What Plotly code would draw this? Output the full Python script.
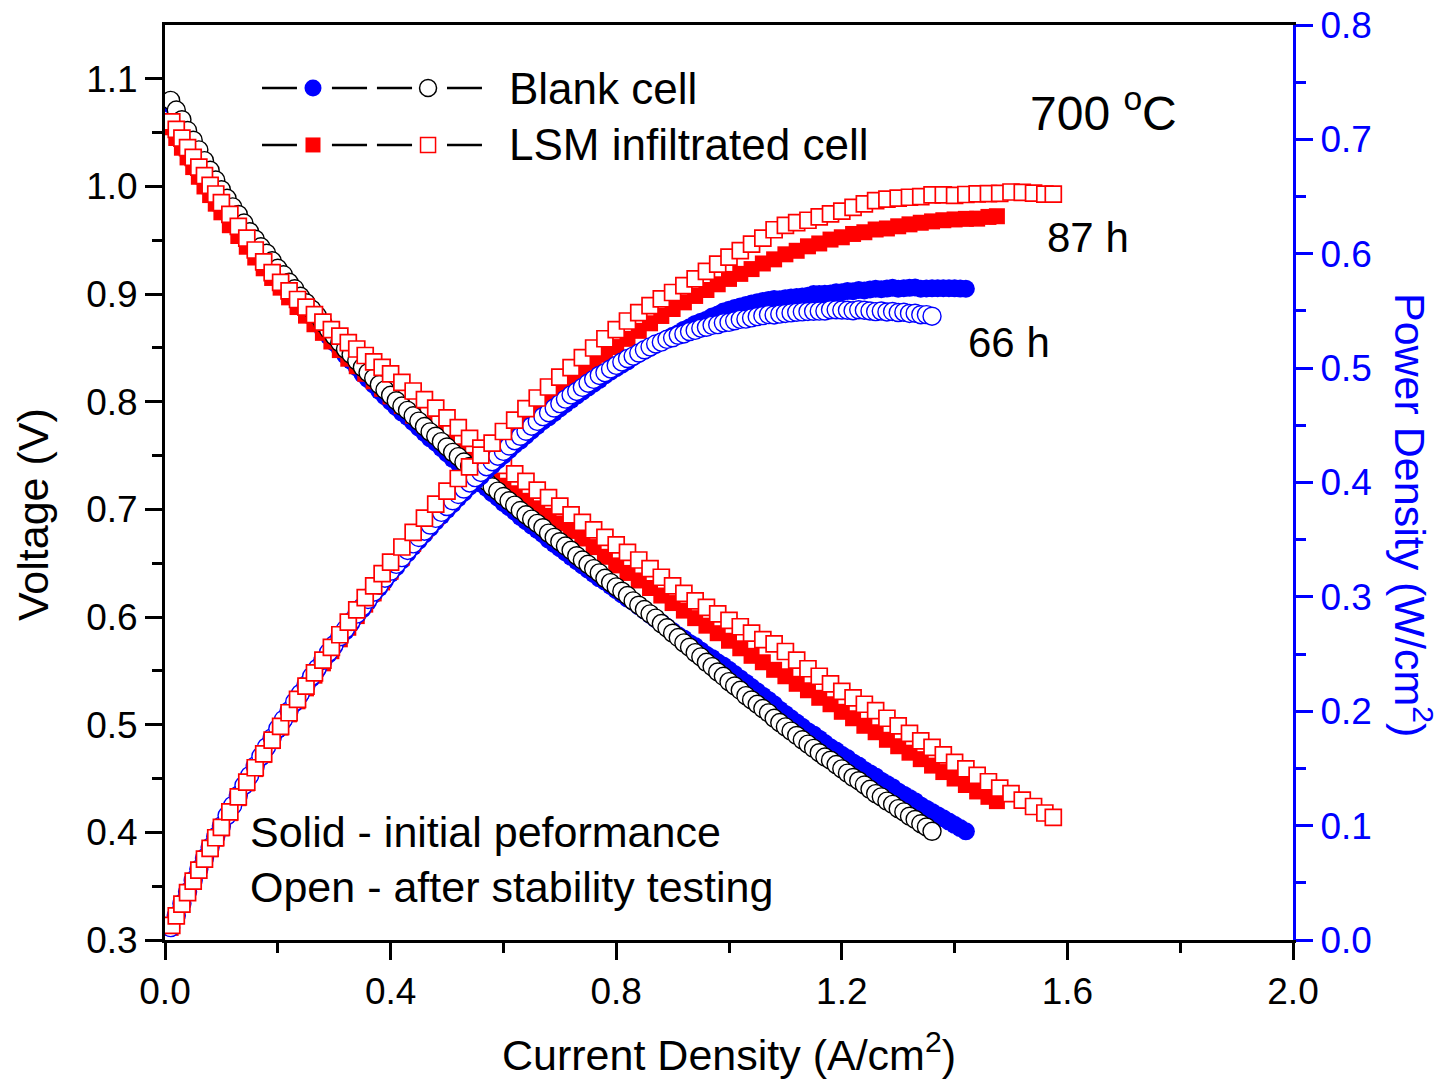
import plotly.graph_objects as go

FONT = "Liberation Sans, Arial, Helvetica, sans-serif"
BLUE = "#0000FF"
RED = "#FF0000"

# ---------------- data ----------------
blank_after_current = [
    0.01, 0.02, 0.03, 0.04, 0.05, 0.06, 0.07, 0.08, 0.09, 0.10,
    0.11, 0.12, 0.13, 0.14, 0.15, 0.16, 0.17, 0.18, 0.19, 0.20,
    0.21, 0.22, 0.23, 0.24, 0.25, 0.26, 0.27, 0.28, 0.29, 0.30,
    0.31, 0.32, 0.33, 0.34, 0.35, 0.36, 0.37, 0.38, 0.39, 0.40,
    0.41, 0.42, 0.43, 0.44, 0.45, 0.46, 0.47, 0.48, 0.49, 0.50,
    0.51, 0.52, 0.53, 0.54, 0.55, 0.56, 0.57, 0.58, 0.59, 0.60,
    0.61, 0.62, 0.63, 0.64, 0.65, 0.66, 0.67, 0.68, 0.69, 0.70,
    0.71, 0.72, 0.73, 0.74, 0.75, 0.76, 0.77, 0.78, 0.79, 0.80,
    0.81, 0.82, 0.83, 0.84, 0.85, 0.86, 0.87, 0.88, 0.89, 0.90,
    0.91, 0.92, 0.93, 0.94, 0.95, 0.96, 0.97, 0.98, 0.99, 1.00,
    1.01, 1.02, 1.03, 1.04, 1.05, 1.06, 1.07, 1.08, 1.09, 1.10,
    1.11, 1.12, 1.13, 1.14, 1.15, 1.16, 1.17, 1.18, 1.19, 1.20,
    1.21, 1.22, 1.23, 1.24, 1.25, 1.26, 1.27, 1.28, 1.29, 1.30,
    1.31, 1.32, 1.33, 1.34, 1.35, 1.36]
blank_after_voltage = [
    1.080, 1.071, 1.062, 1.052, 1.043, 1.034, 1.024, 1.015, 1.006, 0.997,
    0.989, 0.981, 0.974, 0.966, 0.958, 0.951, 0.944, 0.938, 0.931, 0.924,
    0.918, 0.911, 0.905, 0.898, 0.892, 0.886, 0.880, 0.873, 0.867, 0.861,
    0.855, 0.849, 0.844, 0.838, 0.832, 0.827, 0.822, 0.816, 0.811, 0.806,
    0.801, 0.796, 0.792, 0.787, 0.782, 0.777, 0.772, 0.768, 0.763, 0.758,
    0.753, 0.749, 0.744, 0.740, 0.735, 0.730, 0.726, 0.721, 0.717, 0.712,
    0.708, 0.704, 0.699, 0.695, 0.691, 0.687, 0.683, 0.678, 0.674, 0.670,
    0.666, 0.662, 0.657, 0.653, 0.649, 0.645, 0.641, 0.636, 0.632, 0.628,
    0.624, 0.620, 0.615, 0.611, 0.607, 0.603, 0.599, 0.594, 0.590, 0.585,
    0.581, 0.576, 0.572, 0.567, 0.563, 0.558, 0.554, 0.549, 0.545, 0.540,
    0.536, 0.532, 0.527, 0.523, 0.519, 0.515, 0.511, 0.506, 0.502, 0.498,
    0.494, 0.490, 0.486, 0.482, 0.478, 0.474, 0.470, 0.467, 0.463, 0.459,
    0.455, 0.451, 0.448, 0.444, 0.440, 0.436, 0.433, 0.429, 0.426, 0.422,
    0.419, 0.415, 0.412, 0.408, 0.405, 0.401]
blank_after_power = [
    0.0108, 0.0214, 0.0319, 0.0421, 0.0522, 0.0620, 0.0717, 0.0812, 0.0905, 0.0997,
    0.1088, 0.1177, 0.1266, 0.1352, 0.1437, 0.1522, 0.1605, 0.1688, 0.1769, 0.1848,
    0.1928, 0.2004, 0.2082, 0.2155, 0.2230, 0.2304, 0.2376, 0.2444, 0.2514, 0.2583,
    0.2651, 0.2717, 0.2785, 0.2849, 0.2912, 0.2977, 0.3041, 0.3101, 0.3163, 0.3224,
    0.3284, 0.3343, 0.3406, 0.3463, 0.3519, 0.3574, 0.3628, 0.3686, 0.3739, 0.3790,
    0.3840, 0.3895, 0.3943, 0.3996, 0.4043, 0.4088, 0.4138, 0.4182, 0.4230, 0.4272,
    0.4319, 0.4365, 0.4404, 0.4448, 0.4492, 0.4534, 0.4576, 0.4610, 0.4651, 0.4690,
    0.4729, 0.4766, 0.4796, 0.4832, 0.4868, 0.4902, 0.4936, 0.4961, 0.4993, 0.5024,
    0.5054, 0.5084, 0.5105, 0.5132, 0.5160, 0.5186, 0.5211, 0.5227, 0.5251, 0.5265,
    0.5287, 0.5299, 0.5320, 0.5330, 0.5349, 0.5357, 0.5374, 0.5380, 0.5396, 0.5400,
    0.5414, 0.5426, 0.5428, 0.5439, 0.5450, 0.5459, 0.5468, 0.5465, 0.5472, 0.5478,
    0.5483, 0.5488, 0.5492, 0.5495, 0.5497, 0.5498, 0.5499, 0.5511, 0.5510, 0.5508,
    0.5506, 0.5502, 0.5510, 0.5506, 0.5500, 0.5494, 0.5499, 0.5491, 0.5495, 0.5486,
    0.5489, 0.5478, 0.5480, 0.5467, 0.5468, 0.5454]

blank_init_current = [
    0.01, 0.02, 0.03, 0.04, 0.05, 0.06, 0.07, 0.08, 0.09, 0.10,
    0.11, 0.12, 0.13, 0.14, 0.15, 0.16, 0.17, 0.18, 0.19, 0.20,
    0.21, 0.22, 0.23, 0.24, 0.25, 0.26, 0.27, 0.28, 0.29, 0.30,
    0.31, 0.32, 0.33, 0.34, 0.35, 0.36, 0.37, 0.38, 0.39, 0.40,
    0.41, 0.42, 0.43, 0.44, 0.45, 0.46, 0.47, 0.48, 0.49, 0.50,
    0.51, 0.52, 0.53, 0.54, 0.55, 0.56, 0.57, 0.58, 0.59, 0.60,
    0.61, 0.62, 0.63, 0.64, 0.65, 0.66, 0.67, 0.68, 0.69, 0.70,
    0.71, 0.72, 0.73, 0.74, 0.75, 0.76, 0.77, 0.78, 0.79, 0.80,
    0.81, 0.82, 0.83, 0.84, 0.85, 0.86, 0.87, 0.88, 0.89, 0.90,
    0.91, 0.92, 0.93, 0.94, 0.95, 0.96, 0.97, 0.98, 0.99, 1.00,
    1.01, 1.02, 1.03, 1.04, 1.05, 1.06, 1.07, 1.08, 1.09, 1.10,
    1.11, 1.12, 1.13, 1.14, 1.15, 1.16, 1.17, 1.18, 1.19, 1.20,
    1.21, 1.22, 1.23, 1.24, 1.25, 1.26, 1.27, 1.28, 1.29, 1.30,
    1.31, 1.32, 1.33, 1.34, 1.35, 1.36, 1.37, 1.38, 1.39, 1.40,
    1.41, 1.42]
blank_init_voltage = [
    1.076, 1.066, 1.057, 1.047, 1.037, 1.028, 1.019, 1.009, 1.000, 0.991,
    0.983, 0.975, 0.968, 0.960, 0.952, 0.945, 0.938, 0.932, 0.925, 0.918,
    0.912, 0.905, 0.899, 0.892, 0.886, 0.880, 0.874, 0.867, 0.861, 0.855,
    0.849, 0.843, 0.838, 0.832, 0.826, 0.821, 0.816, 0.810, 0.805, 0.800,
    0.795, 0.790, 0.786, 0.781, 0.776, 0.771, 0.766, 0.762, 0.757, 0.752,
    0.747, 0.743, 0.738, 0.734, 0.729, 0.724, 0.720, 0.715, 0.711, 0.706,
    0.702, 0.698, 0.693, 0.689, 0.685, 0.681, 0.677, 0.672, 0.668, 0.664,
    0.660, 0.656, 0.652, 0.648, 0.644, 0.640, 0.636, 0.633, 0.629, 0.625,
    0.621, 0.617, 0.614, 0.610, 0.606, 0.602, 0.598, 0.595, 0.591, 0.587,
    0.583, 0.580, 0.576, 0.573, 0.569, 0.565, 0.562, 0.558, 0.555, 0.551,
    0.547, 0.543, 0.539, 0.535, 0.531, 0.527, 0.523, 0.519, 0.514, 0.510,
    0.506, 0.502, 0.498, 0.494, 0.491, 0.487, 0.483, 0.479, 0.476, 0.472,
    0.469, 0.465, 0.462, 0.458, 0.455, 0.452, 0.448, 0.445, 0.442, 0.438,
    0.435, 0.432, 0.429, 0.425, 0.422, 0.419, 0.416, 0.413, 0.410, 0.407,
    0.404, 0.401]
blank_init_power = [
    0.0108, 0.0213, 0.0317, 0.0419, 0.0519, 0.0617, 0.0713, 0.0807, 0.0900, 0.0991,
    0.1081, 0.1170, 0.1258, 0.1344, 0.1428, 0.1512, 0.1595, 0.1678, 0.1758, 0.1836,
    0.1915, 0.1991, 0.2068, 0.2141, 0.2215, 0.2288, 0.2360, 0.2428, 0.2497, 0.2565,
    0.2632, 0.2698, 0.2765, 0.2829, 0.2891, 0.2956, 0.3019, 0.3078, 0.3140, 0.3200,
    0.3260, 0.3318, 0.3380, 0.3436, 0.3492, 0.3547, 0.3600, 0.3658, 0.3709, 0.3760,
    0.3810, 0.3864, 0.3911, 0.3964, 0.4010, 0.4054, 0.4104, 0.4147, 0.4195, 0.4236,
    0.4282, 0.4328, 0.4366, 0.4410, 0.4453, 0.4495, 0.4536, 0.4570, 0.4609, 0.4648,
    0.4686, 0.4723, 0.4760, 0.4795, 0.4830, 0.4864, 0.4897, 0.4937, 0.4969, 0.5000,
    0.5030, 0.5059, 0.5096, 0.5124, 0.5151, 0.5177, 0.5203, 0.5236, 0.5260, 0.5283,
    0.5305, 0.5336, 0.5357, 0.5386, 0.5406, 0.5424, 0.5451, 0.5468, 0.5495, 0.5510,
    0.5525, 0.5539, 0.5552, 0.5564, 0.5576, 0.5586, 0.5596, 0.5605, 0.5603, 0.5610,
    0.5617, 0.5622, 0.5627, 0.5632, 0.5647, 0.5649, 0.5651, 0.5652, 0.5664, 0.5664,
    0.5675, 0.5673, 0.5683, 0.5679, 0.5688, 0.5695, 0.5690, 0.5696, 0.5702, 0.5694,
    0.5699, 0.5702, 0.5706, 0.5695, 0.5697, 0.5698, 0.5699, 0.5699, 0.5699, 0.5698,
    0.5696, 0.5694]

lsm_after_current = [
    0.012, 0.02, 0.03, 0.04, 0.05, 0.06, 0.07, 0.08, 0.09, 0.10,
    0.115, 0.13, 0.145, 0.16, 0.175, 0.19, 0.205, 0.22, 0.235, 0.25,
    0.265, 0.28, 0.295, 0.31, 0.325, 0.34, 0.355, 0.37, 0.385, 0.40,
    0.42, 0.44, 0.46, 0.48, 0.50, 0.52, 0.54, 0.56, 0.58, 0.60,
    0.62, 0.64, 0.66, 0.68, 0.70, 0.72, 0.74, 0.76, 0.78, 0.80,
    0.82, 0.84, 0.86, 0.88, 0.90, 0.92, 0.94, 0.96, 0.98, 1.00,
    1.02, 1.04, 1.06, 1.08, 1.10, 1.12, 1.14, 1.16, 1.18, 1.20,
    1.22, 1.24, 1.26, 1.28, 1.30, 1.32, 1.34, 1.36, 1.38, 1.40,
    1.42, 1.44, 1.46, 1.48, 1.50, 1.52, 1.54, 1.56, 1.575]
lsm_after_voltage = [
    1.060, 1.053, 1.045, 1.036, 1.027, 1.018, 1.010, 1.001, 0.993, 0.985,
    0.974, 0.963, 0.952, 0.941, 0.930, 0.920, 0.911, 0.903, 0.895, 0.888,
    0.881, 0.874, 0.867, 0.861, 0.855, 0.849, 0.843, 0.837, 0.832, 0.826,
    0.818, 0.810, 0.802, 0.794, 0.785, 0.776, 0.766, 0.757, 0.749, 0.741,
    0.733, 0.726, 0.718, 0.711, 0.703, 0.695, 0.688, 0.681, 0.674, 0.667,
    0.660, 0.653, 0.645, 0.637, 0.629, 0.622, 0.615, 0.609, 0.603, 0.597,
    0.591, 0.585, 0.579, 0.575, 0.568, 0.560, 0.552, 0.545, 0.538, 0.531,
    0.525, 0.519, 0.513, 0.506, 0.499, 0.492, 0.485, 0.479, 0.472, 0.465,
    0.459, 0.453, 0.447, 0.441, 0.436, 0.430, 0.424, 0.418, 0.414]
lsm_after_power = [
    0.0127, 0.0211, 0.0314, 0.0414, 0.0514, 0.0611, 0.0707, 0.0801, 0.0894, 0.0985,
    0.1120, 0.1252, 0.1380, 0.1506, 0.1628, 0.1748, 0.1868, 0.1987, 0.2103, 0.2220,
    0.2335, 0.2447, 0.2558, 0.2669, 0.2779, 0.2887, 0.2993, 0.3097, 0.3203, 0.3304,
    0.3436, 0.3564, 0.3689, 0.3811, 0.3925, 0.4035, 0.4136, 0.4239, 0.4344, 0.4446,
    0.4545, 0.4646, 0.4739, 0.4835, 0.4921, 0.5004, 0.5091, 0.5176, 0.5257, 0.5336,
    0.5412, 0.5485, 0.5547, 0.5606, 0.5661, 0.5722, 0.5781, 0.5846, 0.5909, 0.5970,
    0.6028, 0.6084, 0.6137, 0.6210, 0.6248, 0.6272, 0.6293, 0.6322, 0.6348, 0.6372,
    0.6405, 0.6436, 0.6464, 0.6477, 0.6487, 0.6494, 0.6499, 0.6514, 0.6514, 0.6510,
    0.6518, 0.6523, 0.6526, 0.6527, 0.6540, 0.6536, 0.6530, 0.6521, 0.6521]

lsm_init_current = [
    0.01, 0.02, 0.03, 0.04, 0.05, 0.06, 0.07, 0.08, 0.09, 0.10,
    0.115, 0.13, 0.145, 0.16, 0.175, 0.19, 0.205, 0.22, 0.235, 0.25,
    0.265, 0.28, 0.295, 0.31, 0.325, 0.34, 0.355, 0.37, 0.385, 0.40,
    0.42, 0.44, 0.46, 0.48, 0.50, 0.52, 0.54, 0.56, 0.58, 0.60,
    0.62, 0.64, 0.66, 0.68, 0.70, 0.72, 0.74, 0.76, 0.78, 0.80,
    0.82, 0.84, 0.86, 0.88, 0.90, 0.92, 0.94, 0.96, 0.98, 1.00,
    1.02, 1.04, 1.06, 1.08, 1.10, 1.12, 1.14, 1.16, 1.18, 1.20,
    1.22, 1.24, 1.26, 1.28, 1.30, 1.32, 1.34, 1.36, 1.38, 1.40,
    1.42, 1.44, 1.46, 1.475]
lsm_init_voltage = [
    1.055, 1.045, 1.036, 1.027, 1.018, 1.009, 1.000, 0.992, 0.984, 0.976,
    0.964, 0.954, 0.944, 0.934, 0.924, 0.915, 0.906, 0.897, 0.888, 0.880,
    0.872, 0.864, 0.856, 0.848, 0.840, 0.833, 0.826, 0.819, 0.812, 0.805,
    0.796, 0.787, 0.779, 0.770, 0.762, 0.754, 0.746, 0.738, 0.730, 0.722,
    0.715, 0.708, 0.701, 0.694, 0.687, 0.680, 0.673, 0.665, 0.656, 0.648,
    0.641, 0.634, 0.627, 0.620, 0.613, 0.606, 0.599, 0.592, 0.585, 0.578,
    0.571, 0.564, 0.558, 0.551, 0.545, 0.538, 0.532, 0.525, 0.519, 0.512,
    0.506, 0.499, 0.493, 0.486, 0.480, 0.474, 0.468, 0.462, 0.456, 0.450,
    0.444, 0.438, 0.433, 0.429]
lsm_init_power = [
    0.0106, 0.0209, 0.0311, 0.0411, 0.0509, 0.0605, 0.0700, 0.0794, 0.0886, 0.0976,
    0.1109, 0.1240, 0.1369, 0.1494, 0.1617, 0.1739, 0.1857, 0.1973, 0.2087, 0.2200,
    0.2311, 0.2419, 0.2525, 0.2629, 0.2730, 0.2832, 0.2932, 0.3030, 0.3126, 0.3220,
    0.3343, 0.3463, 0.3583, 0.3696, 0.3810, 0.3921, 0.4028, 0.4133, 0.4234, 0.4332,
    0.4433, 0.4531, 0.4627, 0.4719, 0.4809, 0.4896, 0.4980, 0.5054, 0.5117, 0.5184,
    0.5256, 0.5326, 0.5392, 0.5456, 0.5517, 0.5575, 0.5631, 0.5683, 0.5733, 0.5780,
    0.5824, 0.5866, 0.5915, 0.5951, 0.5995, 0.6026, 0.6065, 0.6090, 0.6124, 0.6144,
    0.6173, 0.6188, 0.6212, 0.6221, 0.6240, 0.6257, 0.6271, 0.6283, 0.6293, 0.6300,
    0.6305, 0.6307, 0.6322, 0.6328]

x_tick_values = [0.0, 0.4, 0.8, 1.2, 1.6, 2.0]
x_tick_labels = ["0.0", "0.4", "0.8", "1.2", "1.6", "2.0"]
x_minor_values = [0.2, 0.6, 1.0, 1.4, 1.8]
v_tick_values = [0.3, 0.4, 0.5, 0.6, 0.7, 0.8, 0.9, 1.0, 1.1]
v_tick_labels = ["0.3", "0.4", "0.5", "0.6", "0.7", "0.8", "0.9", "1.0", "1.1"]
v_minor_values = [0.35, 0.45, 0.55, 0.65, 0.75, 0.85, 0.95, 1.05]
p_tick_values = [0.0, 0.1, 0.2, 0.3, 0.4, 0.5, 0.6, 0.7, 0.8]
p_tick_labels = ["0.0", "0.1", "0.2", "0.3", "0.4", "0.5", "0.6", "0.7", "0.8"]
p_minor_values = [0.05, 0.15, 0.25, 0.35, 0.45, 0.55, 0.65, 0.75]

# ---------------- figure ----------------
fig = go.Figure()


def add(x, y, axis, symbol, size, fill, line_color, line_width):
    fig.add_trace(go.Scatter(
        x=x, y=y, yaxis=axis, mode="markers", showlegend=False, hoverinfo="skip",
        marker=dict(symbol=symbol, size=size, color=fill,
                    line=dict(color=line_color, width=line_width))))


CIRC = 18
SQ = 16
# voltage curves (left axis)
add(blank_init_current, blank_init_voltage, "y", "circle", CIRC, BLUE, BLUE, 0)
add(lsm_init_current, lsm_init_voltage, "y", "square", SQ, RED, RED, 0)
add(blank_after_current, blank_after_voltage, "y", "circle", CIRC, "white", "black", 1.4)
add(lsm_after_current, lsm_after_voltage, "y", "square", SQ, "white", RED, 1.7)
# power curves (right axis)
add(blank_init_current, blank_init_power, "y2", "circle", CIRC, BLUE, BLUE, 0)
add(lsm_init_current, lsm_init_power, "y2", "square", SQ, RED, RED, 0)
add(blank_after_current, blank_after_power, "y2", "circle", CIRC, "white", BLUE, 1.4)
add(lsm_after_current, lsm_after_power, "y2", "square", SQ, "white", RED, 1.7)

# ---------------- custom legend (paper coordinates) ----------------
shapes = []
rows = [0.9311, 0.8689]
segments = [(0.0860, 0.1170), (0.1480, 0.1791), (0.1879, 0.2190), (0.2500, 0.2810)]
for ry in rows:
    for x0, x1 in segments:
        shapes.append(dict(type="line", xref="paper", yref="paper", x0=x0, x1=x1,
                           y0=ry, y1=ry, line=dict(color="black", width=2.5)))
legend_marks = [
    ("circle", 0.1312, rows[0], 8.5, BLUE, BLUE, 0),
    ("circle", 0.2332, rows[0], 8.5, "white", "black", 1.5),
    ("rect", 0.1312, rows[1], 7.5, RED, RED, 0),
    ("rect", 0.2332, rows[1], 7.5, "white", RED, 1.5),
]
for kind, ax, ay, r, fillc, linec, lw in legend_marks:
    shapes.append(dict(type=kind, xref="paper", yref="paper", xsizemode="pixel",
                       ysizemode="pixel", xanchor=ax, yanchor=ay, x0=-r, x1=r, y0=-r, y1=r,
                       fillcolor=fillc, line=dict(color=linec, width=lw), layer="above"))


def note(text, x, y, size, color="black", xanchor="left", angle=0):
    return dict(text=text, x=x, y=y, xref="paper", yref="paper", showarrow=False,
                xanchor=xanchor, yanchor="middle", textangle=angle,
                font=dict(family=FONT, size=size, color=color))


annotations = [
    note("Blank cell", 0.3032, 0.9311, 44),
    note("LSM infiltrated cell", 0.3032, 0.8689, 44),
    note("700 <sup>o</sup>C", 0.7651, 0.9071, 48),
    note("87 h", 0.7801, 0.7683, 42),
    note("66 h", 0.7101, 0.6525, 42),
    note("Solid - initial peformance", 0.0736, 0.1180, 43),
    note("Open - after stability testing", 0.0736, 0.0579, 43),
    note("Current Density (A/cm<sup>2</sup>)", 0.4996, -0.1222, 43, xanchor="center"),
    note("Voltage (V)", -0.1170, 0.4645, 43, xanchor="center", angle=-90),
    note("Power Density (W/cm<sup>2</sup>)", 1.1064, 0.4645, 43, color=BLUE,
         xanchor="center", angle=90),
]

# the page body adds an 8 px offset, so the figure is 16 px smaller and the
# margins are reduced by 8 px on the left/top to keep the plot area in place
fig.update_layout(
    width=1434, height=1071,
    margin=dict(l=157, r=149, t=17, b=139, autoexpand=False),
    plot_bgcolor="white", paper_bgcolor="white",
    font=dict(family=FONT, size=37, color="black"),
    showlegend=False,
    shapes=shapes,
    annotations=annotations,
    xaxis=dict(range=[0, 2.0], tickmode="array", tickvals=x_tick_values, ticktext=x_tick_labels,
               ticks="outside", ticklen=17, tickwidth=3, tickcolor="black",
               showline=True, linewidth=3, linecolor="black", mirror=True,
               showgrid=False, zeroline=False, automargin=False, ticklabeloverflow="allow",
               tickfont=dict(family=FONT, size=37, color="black"),
               minor=dict(tickmode="array", tickvals=x_minor_values, ticks="outside",
                          ticklen=10, tickwidth=3, tickcolor="black", showgrid=False)),
    yaxis=dict(range=[0.3, 1.15], tickmode="array", tickvals=v_tick_values, ticktext=v_tick_labels,
               ticks="outside", ticklen=17, tickwidth=3, tickcolor="black",
               showline=True, linewidth=3, linecolor="black", mirror=False,
               showgrid=False, zeroline=False, automargin=False, ticklabeloverflow="allow",
               tickfont=dict(family=FONT, size=37, color="black"),
               minor=dict(tickmode="array", tickvals=v_minor_values, ticks="outside",
                          ticklen=10, tickwidth=3, tickcolor="black", showgrid=False)),
    yaxis2=dict(range=[0, 0.8], overlaying="y", side="right", anchor="x",
                tickmode="array", tickvals=p_tick_values, ticktext=p_tick_labels,
                ticks="outside", ticklen=17, tickwidth=3, tickcolor=BLUE,
                showline=True, linewidth=3, linecolor=BLUE,
                showgrid=False, zeroline=False, automargin=False, ticklabeloverflow="allow",
                tickfont=dict(family=FONT, size=37, color=BLUE),
                minor=dict(tickmode="array", tickvals=p_minor_values, ticks="outside",
                           ticklen=10, tickwidth=3, tickcolor=BLUE, showgrid=False)),
)

fig.write_html("out.html")
